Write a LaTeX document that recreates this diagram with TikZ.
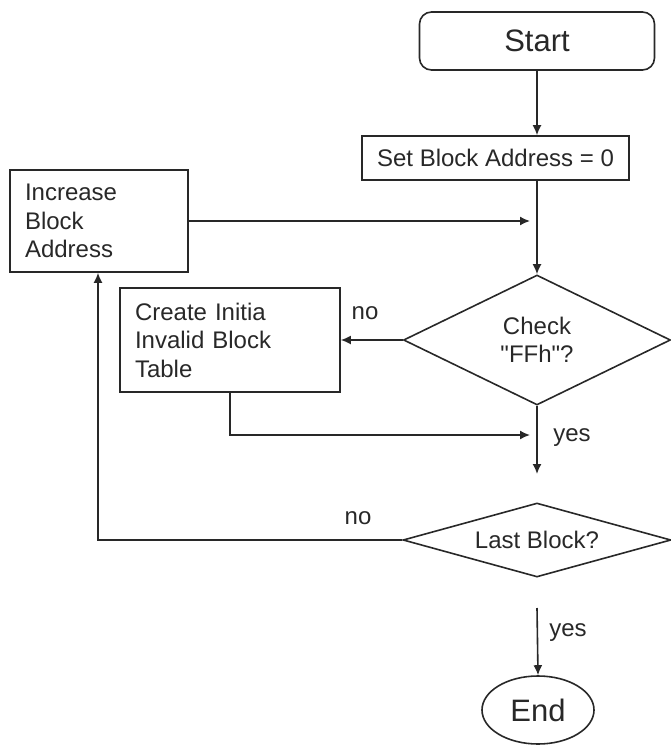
\documentclass[tikz,border=0pt]{standalone}
\usepackage{fontspec}
\setmainfont{Liberation Sans}[Ligatures=TeXOff]
\usetikzlibrary{shapes.geometric,arrows.meta}
\definecolor{ink}{RGB}{40,40,40}
\tikzset{
  base/.style={draw=ink, line width=1.6pt, text=ink, font=\fontsize{24}{28.5}\selectfont},
  procbox/.style={base, rectangle, inner sep=0pt},
  leftbox/.style={base, rectangle, inner xsep=15pt, inner ysep=0pt, align=left},
  decide/.style={base, diamond, inner sep=0pt, align=center},
  term/.style={base, font=\fontsize{31}{36}\selectfont},
  conn/.style={draw=ink, line width=1.6pt, -{Latex[length=10pt,width=9pt]}},
  lbl/.style={text=ink, font=\fontsize{24}{28.5}\selectfont, inner sep=0pt}
}
\begin{document}
\begin{tikzpicture}[x=1pt,y=-1pt]
\useasboundingbox (0,0) rectangle (671,746);
\node[term, rectangle, rounded corners=12pt, minimum width=235pt, minimum height=58pt, inner sep=0pt] (start) at (537,41) {Start};
\node[procbox, minimum width=267pt, minimum height=44pt] (setb) at (495.5,158) {Set Block Address = 0};
\node[leftbox, text width=148pt, minimum height=102pt] (inc) at (99,221) {Increase\\Block\\Address};
\node[leftbox, text width=190pt, minimum height=104pt] (create) at (230,340) {Create Initia\\Invalid Block\\Table};
\node[decide, aspect=2, minimum width=267pt, minimum height=130pt] (check) at (537,340) {Check\\"FFh"?};
\node[decide, aspect=3.6, minimum width=268pt, minimum height=74pt] (last) at (537,540) {Last Block?};
\node[term, ellipse, minimum width=112pt, minimum height=68pt, inner sep=0pt] (end) at (538,710) {End};

\coordinate (j1) at (530,221);
\coordinate (j2) at (530,435);
\coordinate (j3) at (537,474);
\coordinate (j4) at (537,608);
\coordinate (lc) at (98,540);

\draw[conn] (start.south) -- (start.south |- setb.north);
\draw[conn] (check.north |- setb.south) -- (check.north);
\draw[conn] (inc.east |- j1) -- (j1);
\draw[conn] (check.west) -- (create.east |- check.west);
\draw[conn] (create.south) |- (j2);
\draw[conn] (check.south) -- (j3);
\draw[conn] (last.west) -- (lc) -- (lc |- inc.south);
\draw[conn] (j4) -- (end.north);

\node[lbl] (no1) at (365,313) {no};
\node[lbl] (yes1) at (572,438) {yes};
\node[lbl] (no2) at (358,518) {no};
\node[lbl] (yes2) at (568,633) {yes};
\end{tikzpicture}
\end{document}
